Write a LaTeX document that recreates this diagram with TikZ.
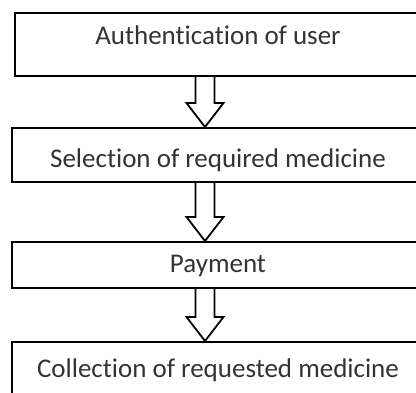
\documentclass[tikz,border=0pt]{standalone}
\usepackage{fontspec}
\setmainfont{Carlito}[Ligatures=NoCommon]
\usetikzlibrary{calc}

\begin{document}
\begin{tikzpicture}[
    x=1pt, y=-1pt,
    stage/.style={draw, line width=2pt, minimum width=412pt, inner sep=0pt, font=\fontsize{27}{32}\selectfont, text=black!80},
    arr/.style={draw, line width=1.8pt, line join=miter, to path={let \p1=(\tikztostart), \p2=(\tikztotarget) in
        (\x1-9.5pt,\y1) -- (\x1-9.5pt,\y2+24pt) -- (\x1-18.5pt,\y2+24pt) -- (\x2,\y2)
        -- (\x1+18.5pt,\y2+24pt) -- (\x1+9.5pt,\y2+24pt) -- (\x1+9.5pt,\y1)}},
]
    \useasboundingbox (0,0) rectangle (416,393);
    \clip (0,0) rectangle (416,393);

    \node[stage, minimum width=406pt, minimum height=63pt, text height=10pt, text depth=10pt] (auth) at (218,44.5) {Authentication of user};
    \node[stage, minimum height=54pt, text height=26pt, text depth=0pt] (sel) at (218,155) {Selection of required medicine};
    \node[stage, minimum height=46pt, text height=16pt, text depth=0pt] (pay) at (218,265) {Payment};
    \node[stage, minimum height=54pt, text height=18pt, text depth=0pt] (coll) at (218,369) {Collection of requested medicine};

    \coordinate (ax) at (205,0);
    \draw[arr] (auth.south -| ax) to (sel.north -| ax);
    \draw[arr] (sel.south -| ax) to (pay.north -| ax);
    \draw[arr] (pay.south -| ax) to (coll.north -| ax);
\end{tikzpicture}
\end{document}
